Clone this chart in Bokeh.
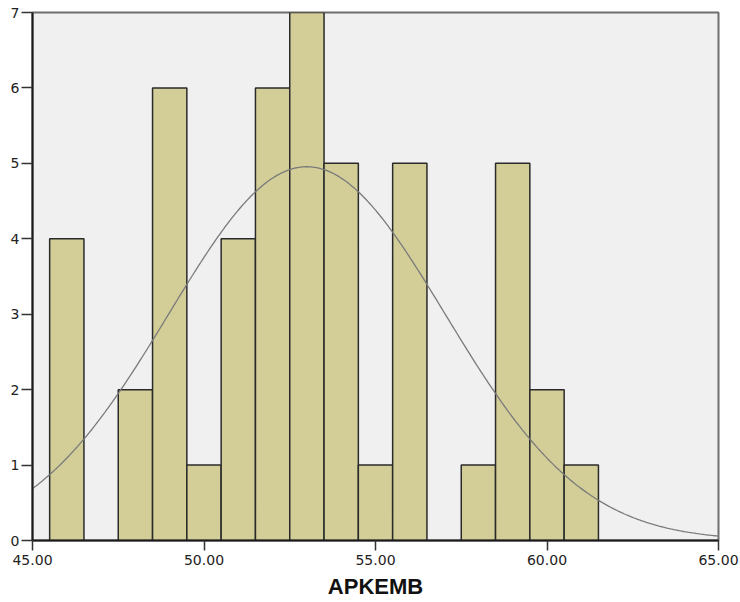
import numpy as np
from bokeh.plotting import figure
from bokeh.models import Range1d, FixedTicker, NumeralTickFormatter, ColumnDataSource
from bokeh.embed import file_html
from bokeh.resources import INLINE

# Histogram of APKEMB: bin centres (width 1) and frequencies
bin_centers = [46, 47, 48, 49, 50, 51, 52, 53, 54, 55, 56, 57, 58, 59, 60, 61]
frequencies = [4, 0, 2, 6, 1, 4, 6, 7, 5, 1, 5, 0, 1, 5, 2, 1]
bin_width = 1.0

x_ticks = [45, 50, 55, 60, 65]
y_ticks = [0, 1, 2, 3, 4, 5, 6, 7]

centers = np.array(bin_centers, dtype=float)
counts = np.array(frequencies, dtype=float)
n = counts.sum()
mean = (centers * counts).sum() / n
sd = np.sqrt(((centers - mean) ** 2 * counts).sum() / (n - 1))

# Fitted normal curve scaled to the histogram counts
xs = np.linspace(45, 65, 400)
ys = n * bin_width / (sd * np.sqrt(2 * np.pi)) * np.exp(-0.5 * ((xs - mean) / sd) ** 2)

p = figure(width=740, height=602, output_backend="svg", toolbar_location=None,
           x_range=Range1d(45, 65), y_range=Range1d(0, 7),
           min_border_left=32, min_border_right=22, min_border_top=12, min_border_bottom=62)
p.background_fill_color = "#F0F0F0"
p.border_fill_color = "white"
p.outline_line_color = "#6E6E6E"
p.outline_line_width = 2
p.grid.visible = False

nz = counts > 0
src = ColumnDataSource(dict(left=centers[nz] - bin_width / 2, right=centers[nz] + bin_width / 2,
                            top=counts[nz], bottom=np.zeros(nz.sum())))
p.quad(left="left", right="right", top="top", bottom="bottom", source=src,
       fill_color="#D3CE98", line_color="#2A2A2A", line_width=1.5)

p.line(xs, ys, line_color="#7A7A7A", line_width=1.3)

font = "DejaVu Sans"
p.xaxis.ticker = FixedTicker(ticks=x_ticks)
p.xaxis.formatter = NumeralTickFormatter(format="0.00")
p.yaxis.ticker = FixedTicker(ticks=y_ticks)
for ax in (p.xaxis, p.yaxis):
    ax.minor_tick_line_color = None
    ax.major_tick_in = 0
    ax.axis_line_color = "#1A1A1A"
    ax.axis_line_width = 2
    ax.major_tick_line_color = "#333333"
    ax.major_tick_line_width = 1.5
    ax.major_label_text_font = font
    ax.major_label_text_font_size = "14px"
    ax.major_label_text_color = "#222222"
p.xaxis.major_tick_out = 10
p.yaxis.major_tick_out = 11
p.xaxis.major_label_standoff = 4
p.yaxis.major_label_standoff = 2
p.yaxis.major_label_orientation = "horizontal"

p.xaxis.axis_label = "APKEMB"
p.xaxis.axis_label_text_font = "Liberation Sans"
p.xaxis.axis_label_text_font_style = "bold"
p.xaxis.axis_label_text_font_size = "22px"
p.xaxis.axis_label_text_color = "#111111"
p.xaxis.axis_label_standoff = 6

open("out.html", "w").write(file_html(p, INLINE))
